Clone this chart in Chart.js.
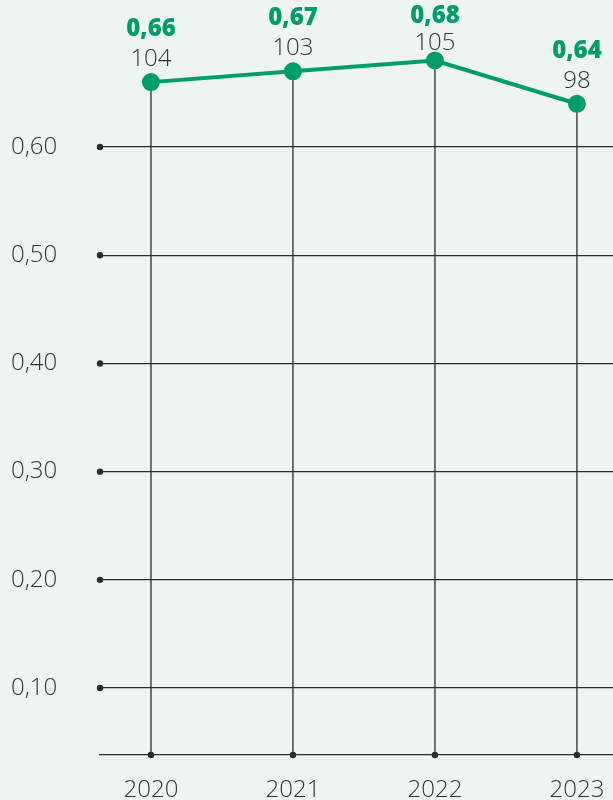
<!DOCTYPE html>
<html>
<head>
<meta charset="utf-8">
<script src="https://cdn.jsdelivr.net/npm/chart.js@4"></script>
<style>
  html, body { margin:0; padding:0; background:#eef5f0; }
  #wrap { width:613px; height:800px; }
</style>
</head>
<body>
<div id="wrap"><canvas id="chart"></canvas></div>
<script>
// ===== Data =====
const years = ['2020', '2021', '2022', '2023'];
const values = [0.66, 0.67, 0.68, 0.64];
const counts = [104, 103, 105, 98];
const yTicks = [0.1, 0.2, 0.3, 0.4, 0.5, 0.6];

const GREEN = '#009d6c';
const INK = '#2b2b2b';
const FONT = "'Open Sans', sans-serif";

const fmt = v => v.toFixed(2).replace('.', ',');

// no automatic label padding round the chart area
const noPad = s => { s.paddingTop = 0; s.paddingBottom = 0; s.paddingLeft = 0; s.paddingRight = 0; };

// dots on gridline ends + drop lines from points
const decoPlugin = {
  id: 'deco',
  beforeDatasetsDraw(chart) {
    const ctx = chart.ctx, area = chart.chartArea, y = chart.scales.y;
    const meta = chart.getDatasetMeta(0);
    ctx.save();
    ctx.strokeStyle = INK;
    ctx.fillStyle = INK;
    ctx.lineWidth = 1.3;
    meta.data.forEach(p => {
      ctx.beginPath();
      ctx.moveTo(p.x, p.y);
      ctx.lineTo(p.x, area.bottom);
      ctx.stroke();
      ctx.beginPath();
      ctx.arc(p.x, area.bottom, 3.2, 0, Math.PI * 2);
      ctx.fill();
    });
    yTicks.forEach(t => {
      ctx.beginPath();
      ctx.arc(area.left, y.getPixelForValue(t), 3.2, 0, Math.PI * 2);
      ctx.fill();
    });
    ctx.restore();
  },
  afterDatasetsDraw(chart) {
    const ctx = chart.ctx;
    const meta = chart.getDatasetMeta(0);
    ctx.save();
    ctx.textAlign = 'center';
    ctx.textBaseline = 'middle';
    meta.data.forEach((p, i) => {
      // keep the top label inside the canvas
      const yBold = Math.max(p.y - 53, 16);
      const yNum = Math.max(p.y - 23, yBold + 27);
      ctx.fillStyle = GREEN;
      ctx.font = `800 24px ${FONT}`;
      ctx.fillText(fmt(values[i]), p.x, yBold);
      ctx.fillStyle = '#333';
      ctx.font = `300 24px ${FONT}`;
      ctx.fillText(String(counts[i]), p.x, yNum);
    });
    ctx.restore();
  }
};

new Chart(document.getElementById('chart').getContext('2d'), {
  type: 'line',
  data: {
    datasets: [{
      data: values.map((v, i) => ({ x: i, y: v })),
      borderColor: GREEN,
      backgroundColor: GREEN,
      borderWidth: 4,
      pointRadius: 7,
      pointHoverRadius: 7,
      tension: 0,
      clip: false
    }]
  },
  options: {
    responsive: true,
    maintainAspectRatio: false,
    animation: false,
    layout: { autoPadding: false, padding: { left: 11, right: 0, top: 0, bottom: 0 } },
    plugins: { legend: { display: false }, tooltip: { enabled: false } },
    scales: {
      x: {
        type: 'linear',
        min: -0.359,
        max: 3.254,
        afterBuildTicks: s => { s.ticks = years.map((_, i) => ({ value: i })); },
        afterFit: s => { s.height = 45; noPad(s); },
        grid: { display: false },
        border: { display: true, color: INK, width: 1.3 },
        ticks: {
          callback: v => years[v],
          color: '#333',
          padding: 13,
          maxRotation: 0,
          font: { family: FONT, size: 24, weight: 300 }
        }
      },
      y: {
        min: 0.0381,
        max: 0.7359,
        afterBuildTicks: s => { s.ticks = yTicks.map(v => ({ value: v })); },
        afterFit: s => { s.width = 89; noPad(s); },
        grid: { color: INK, lineWidth: 1.3, drawTicks: false },
        border: { display: false },
        ticks: {
          callback: v => fmt(v),
          color: '#333',
          crossAlign: 'far',
          font: { family: FONT, size: 24, weight: 300 }
        }
      }
    }
  },
  plugins: [decoPlugin]
});
</script>
</body>
</html>
